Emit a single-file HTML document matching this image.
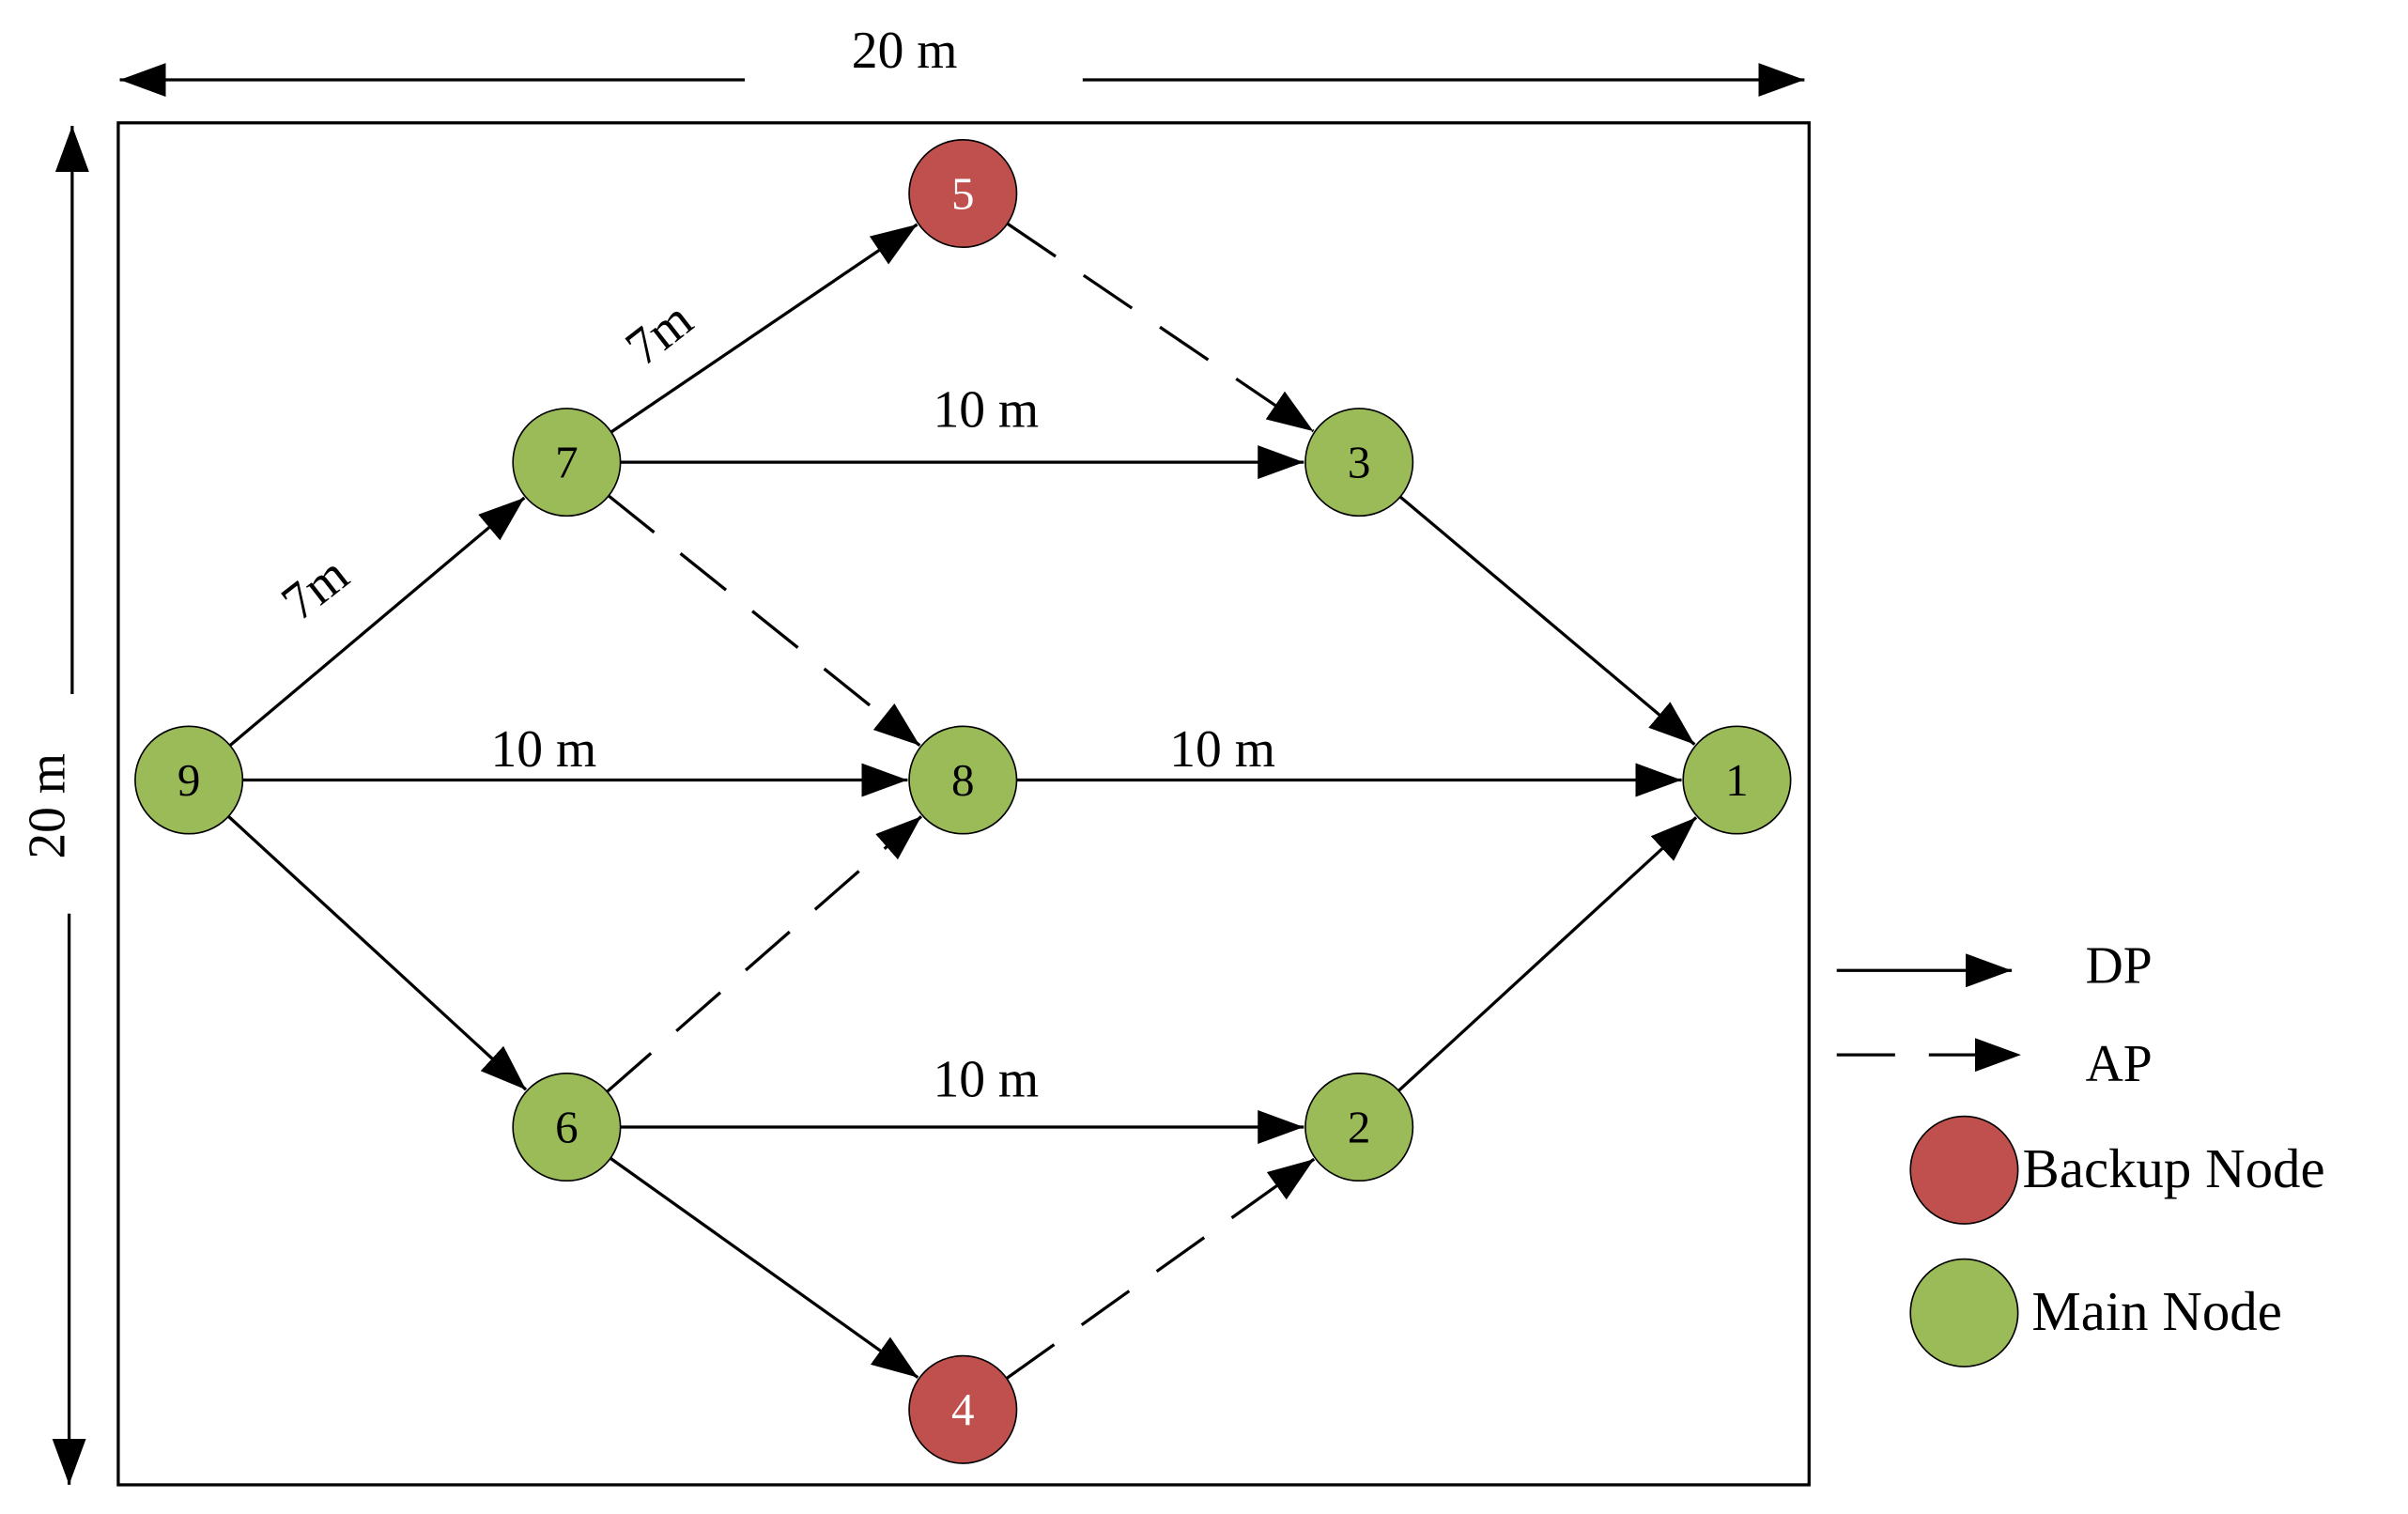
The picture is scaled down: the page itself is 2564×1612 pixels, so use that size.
<!DOCTYPE html>
<html><head><meta charset="utf-8"><style>
html,body{margin:0;padding:0;background:#fff;}
svg{display:block;}
text{font-family:"Liberation Serif",serif;fill:#000;}
</style></head><body>
<svg id="s" width="2564" height="1612" viewBox="0 0 1568 986" preserveAspectRatio="none" xmlns="http://www.w3.org/2000/svg">
<defs>
<marker id="a" markerWidth="30" markerHeight="22" refX="30" refY="11" orient="auto" markerUnits="userSpaceOnUse">
<path d="M0,0 L30,11 L0,22 Z" fill="#000"/></marker>
</defs>
<rect x="77" y="80" width="1101" height="887" fill="none" stroke="#000" stroke-width="2"/>
<line x1="485" y1="52" x2="78" y2="52" stroke="#000" stroke-width="2" marker-end="url(#a)"/>
<line x1="705" y1="52" x2="1175" y2="52" stroke="#000" stroke-width="2" marker-end="url(#a)"/>
<text x="589" y="44" font-size="34" text-anchor="middle">20 m</text>
<line x1="47" y1="452" x2="47" y2="82" stroke="#000" stroke-width="2" marker-end="url(#a)"/>
<line x1="45" y1="595" x2="45" y2="967" stroke="#000" stroke-width="2" marker-end="url(#a)"/>
<text x="0" y="0" font-size="34" text-anchor="middle" transform="translate(42,525) rotate(-90)">20 m</text>
<g id="edges"></g>
<g id="nodes"></g>
<text font-size="34" text-anchor="middle" transform="translate(212,392) rotate(-38)">7m</text>
<text font-size="34" text-anchor="middle" transform="translate(436,226) rotate(-38)">7m</text>
<text x="642" y="278" font-size="34" text-anchor="middle">10 m</text>
<text x="354" y="499" font-size="34" text-anchor="middle">10 m</text>
<text x="796" y="499" font-size="34" text-anchor="middle">10 m</text>
<text x="642" y="714" font-size="34" text-anchor="middle">10 m</text>
<line x1="1196" y1="632" x2="1310" y2="632" stroke="#000" stroke-width="2" marker-end="url(#a)"/>
<line x1="1196" y1="687" x2="1316" y2="687" stroke="#000" stroke-width="2" stroke-dasharray="38,22" marker-end="url(#a)"/>
<text x="1358" y="640" font-size="34">DP</text>
<text x="1358" y="704" font-size="34">AP</text>
<circle cx="1279" cy="762" r="35" fill="#c0504d" stroke="#000" stroke-width="1"/>
<circle cx="1279" cy="855" r="35" fill="#9bbb59" stroke="#000" stroke-width="1"/>
<text x="1317" y="773" font-size="36">Backup Node</text>
<text x="1323" y="866" font-size="36">Main Node</text>
</svg>
<script>
var N={5:[627,126,1],7:[369,301],3:[885,301],9:[123,508],8:[627,508],1:[1131,508],6:[369,734],2:[885,734],4:[627,918,1]};
var E=[[9,7],[7,5],[5,3,1],[7,3],[7,8,1],[9,8],[8,1],[3,1],[9,6],[6,8,1],[6,2],[2,1],[6,4],[4,2,1]];
var ns="http://www.w3.org/2000/svg",r=35,eg=document.getElementById('edges'),ng=document.getElementById('nodes');
E.forEach(function(e){var a=N[e[0]],b=N[e[1]],dx=b[0]-a[0],dy=b[1]-a[1],d=Math.hypot(dx,dy),ux=dx/d,uy=dy/d;
var l=document.createElementNS(ns,'line');l.setAttribute('x1',a[0]+ux*r);l.setAttribute('y1',a[1]+uy*r);
l.setAttribute('x2',b[0]-ux*(r+1));l.setAttribute('y2',b[1]-uy*(r+1));l.setAttribute('stroke','#000');l.setAttribute('stroke-width','2');
if(e[2])l.setAttribute('stroke-dasharray','38,22');l.setAttribute('marker-end','url(#a)');eg.appendChild(l);});
for(var k in N){var p=N[k];var c=document.createElementNS(ns,'circle');c.setAttribute('cx',p[0]);c.setAttribute('cy',p[1]);c.setAttribute('r',r);
c.setAttribute('fill',p[2]?'#c0504d':'#9bbb59');c.setAttribute('stroke','#000');c.setAttribute('stroke-width','1');ng.appendChild(c);
var t=document.createElementNS(ns,'text');t.setAttribute('x',p[0]);t.setAttribute('y',p[1]+10);t.setAttribute('font-size','30');t.setAttribute('text-anchor','middle');
if(p[2])t.setAttribute('style','fill:#fff');t.textContent=k;ng.appendChild(t);}
</script>
</body></html>
